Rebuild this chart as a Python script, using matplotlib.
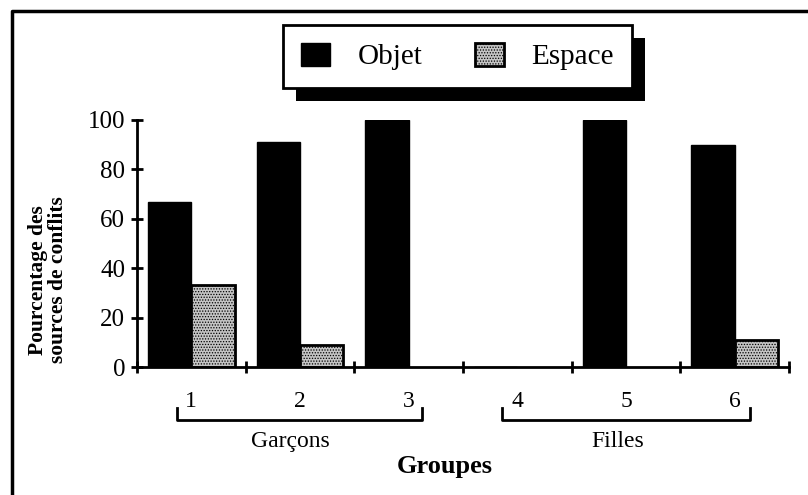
import numpy as np
import matplotlib
matplotlib.use("Agg")
import matplotlib.pyplot as plt
from matplotlib.patches import Rectangle
from matplotlib.lines import Line2D
from matplotlib.transforms import IdentityTransform

plt.rcParams["font.family"] = ["Liberation Serif", "DejaVu Serif"]
plt.rcParams["hatch.linewidth"] = 0.6
plt.rcParams["hatch.color"] = "#222222"

GROUPS  = ["1", "2", "3", "4", "5", "6"]
OBJET   = [67, 91, 100, 0, 100, 90]
ESPACE  = [33, 9, 0, 0, 0, 11]
SEXES   = ["Garçons", "Filles"]
YTICKS  = [0, 20, 40, 60, 80, 100]

W, H = 808, 495
fig = plt.figure(figsize=(W / 100, H / 100), dpi=100)
ax = fig.add_axes([137 / W, 1 - 367 / H, (789 - 137) / W, (367 - 120) / H])

centers = np.arange(len(GROUPS)) + 0.5
bw = 0.4
ax.bar(centers - bw / 2, OBJET, bw, color="black", edgecolor="black",
       linewidth=1, label="Objet")
esp = ax.bar(centers + bw / 2, ESPACE, bw, color="#c4c4c4", edgecolor="black",
             linewidth=2, hatch="......", label="Espace")
for b, v in zip(esp, ESPACE):
    if v == 0:
        b.set_visible(False)

ax.set_xlim(0, 6)
ax.set_ylim(0, 100)
for s in ["top", "right"]:
    ax.spines[s].set_visible(False)
for s in ["left", "bottom"]:
    ax.spines[s].set_linewidth(2)

ax.set_yticks(YTICKS)
ax.tick_params(axis="y", direction="inout", length=9, width=2,
               labelsize=18, pad=4)
ax.set_xticks(np.arange(0, 7))
ax.set_xticklabels([])
ax.set_xticks(centers, minor=True)
ax.set_xticklabels(GROUPS, minor=True)
ax.tick_params(axis="x", which="major", direction="inout", length=9, width=2)
ax.tick_params(axis="x", which="minor", length=0, labelsize=17, pad=17)

# group brackets under the tick labels
tr = ax.get_xaxis_transform()
for (x0, x1), name in zip([(0.37, 2.62), (3.36, 5.64)], SEXES):
    ax.plot([x0, x0, x1, x1], [-0.165, -0.215, -0.215, -0.165], color="black",
            lw=2, transform=tr, clip_on=False)
    ax.text((x0 + x1) / 2 - 0.08, -0.26, name, transform=tr, ha="center",
            va="top", fontsize=17)

ax.text(2.83, -0.355, "Groupes", transform=tr, ha="center", va="top",
        fontsize=19, fontweight="bold")

fig.text(48 / W, 1 - 280 / H, "Pourcentage des\nsources de conflits",
         rotation=90, ha="center", va="center", fontsize=15.5,
         fontweight="bold", linespacing=1.05)

leg = ax.legend(loc="upper left", bbox_to_anchor=(283 / W, 1 - 25 / H),
                bbox_transform=fig.transFigure, ncol=2, fontsize=21,
                frameon=True, fancybox=False, edgecolor="black",
                framealpha=1, handlelength=1.0, handleheight=0.85,
                handletextpad=0.95, columnspacing=1.8, borderpad=0.6,
                borderaxespad=0)
leg.get_frame().set_linewidth(2)
leg.set_zorder(10)

# solid drop shadow behind the legend box
fig.canvas.draw()
bb = leg.get_window_extent()
shadow = Rectangle((bb.x0 + 13, bb.y0 - 13), bb.width, bb.height,
                   transform=IdentityTransform(), facecolor="black",
                   edgecolor="none", zorder=9, clip_on=False)
ax.add_patch(shadow)

# outer frame of the figure (left and top only visible)
fig.add_artist(Line2D([12 / W, 12 / W, 1.0], [0.0, 1 - 11 / H, 1 - 11 / H],
                      transform=fig.transFigure, color="black", lw=2.5))

fig.savefig("out.png", dpi=100)
